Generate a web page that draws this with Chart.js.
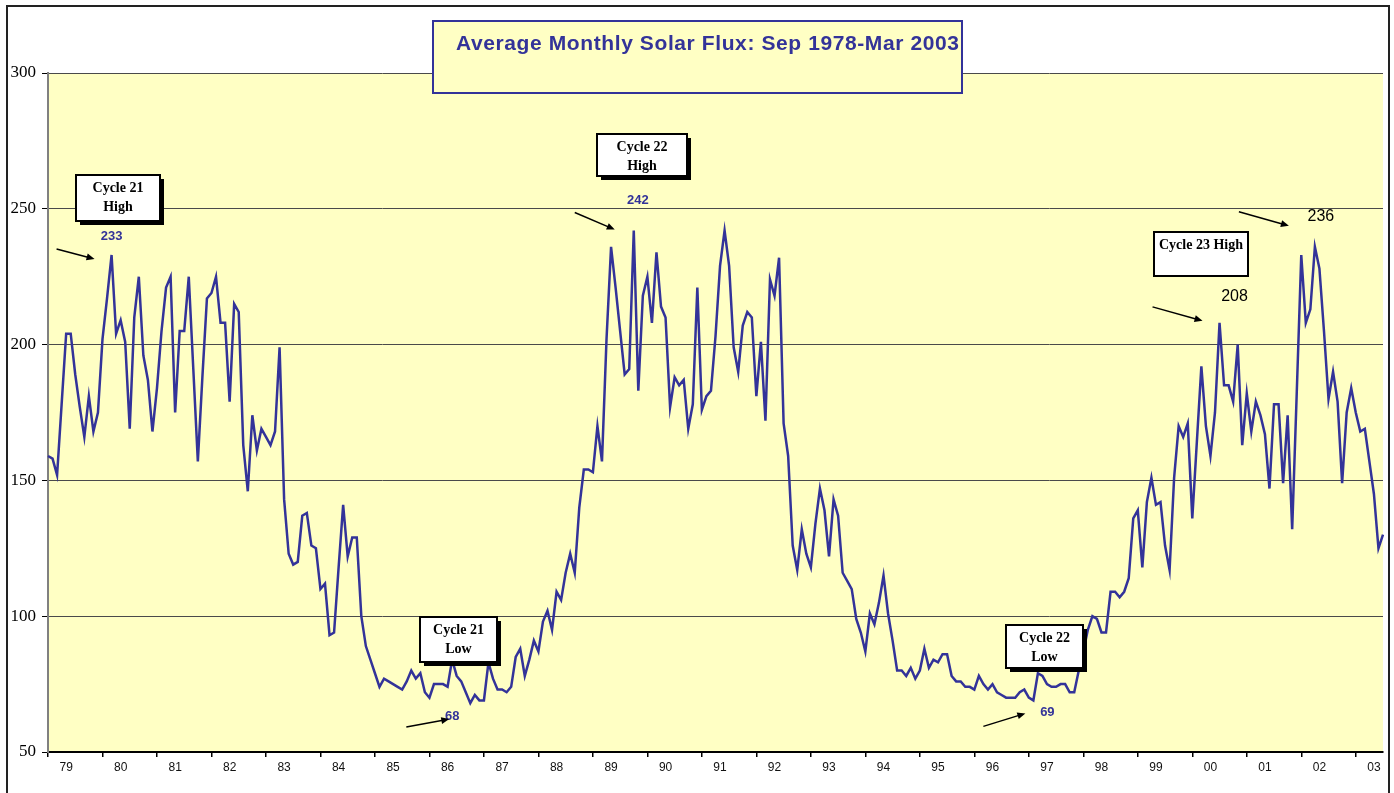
<!DOCTYPE html>
<html>
<head>
<meta charset="utf-8">
<title>Average Monthly Solar Flux</title>
<script src="https://cdn.jsdelivr.net/npm/chart.js@4/dist/chart.umd.min.js"></script>
<style>
    html, body { margin: 0; padding: 0; background: #fff; }
    canvas { display: block; }
</style>
</head>
<body>
<canvas id="flux" width="1394" height="793"></canvas>
<script>
(function() {
    'use strict';

    // first month in the series is Sep 1978 (month index 8)
    var startYear = 1978;
    var startMonth = 8;

    var yearLabels = ['79', '80', '81', '82', '83', '84', '85', '86', '87', '88', '89', '90', '91',
        '92', '93', '94', '95', '96', '97', '98', '99', '00', '01', '02', '03'];

    var monthNames = ['Jan', 'Feb', 'Mar', 'Apr', 'May', 'Jun', 'Jul', 'Aug', 'Sep', 'Oct', 'Nov', 'Dec'];

    // monthly mean 10.7cm flux
    var flux = [
        159, 158, 152, 178,                                           // 1978 Sep-Dec
        204, 204, 189, 177, 166, 181, 168, 175, 202, 217, 233, 204,   // 1979
        209, 201, 169, 210, 225, 196, 187, 168, 184, 205, 221, 225,   // 1980
        175, 205, 205, 225, 191, 157, 188, 217, 219, 225, 208, 208,   // 1981
        179, 215, 212, 163, 146, 174, 161, 169, 166, 163, 168, 199,   // 1982
        143, 123, 119, 120, 137, 138, 126, 125, 110, 112, 93, 94,     // 1983
        118, 141, 122, 129, 129, 100, 89, 84, 79, 74, 77, 76,         // 1984
        75, 74, 73, 76, 80, 77, 79, 72, 70, 75, 75, 75,               // 1985
        74, 84, 78, 76, 72, 68, 71, 69, 69, 83, 77, 73,               // 1986
        73, 72, 74, 85, 88, 78, 84, 91, 87, 98, 102, 95,              // 1987
        109, 106, 116, 123, 116, 140, 154, 154, 153, 170, 157, 202,   // 1988
        236, 221, 205, 189, 191, 242, 183, 218, 225, 208, 234, 214,   // 1989
        210, 177, 188, 185, 187, 169, 178, 221, 176, 181, 183, 203,   // 1990
        229, 242, 229, 199, 190, 207, 212, 210, 181, 201, 172, 224,   // 1991
        218, 232, 171, 159, 126, 117, 132, 123, 118, 134, 147, 139,   // 1992
        122, 143, 137, 116, 113, 110, 99, 94, 87, 101, 97, 105,       // 1993
        115, 101, 91, 80, 80, 78, 81, 77, 80, 88, 81, 84,             // 1994
        83, 86, 86, 78, 76, 76, 74, 74, 73, 78, 75, 73,               // 1995
        75, 72, 71, 70, 70, 70, 72, 73, 70, 69, 79, 78,               // 1996
        75, 74, 74, 75, 75, 72, 72, 80, 87, 95, 100, 99,              // 1997
        94, 94, 109, 109, 107, 109, 114, 136, 139, 118, 142, 151,     // 1998
        141, 142, 126, 117, 151, 170, 166, 171, 136, 164, 192, 170,   // 1999
        159, 175, 208, 185, 185, 179, 200, 163, 182, 168, 179, 174,   // 2000
        167, 147, 178, 178, 149, 174, 132, 182, 233, 208, 213, 236,   // 2001
        228, 205, 180, 190, 179, 149, 175, 184, 175, 168, 169, 157,   // 2002
        145, 125, 130                                                 // 2003 Jan-Mar
    ];

    var months = flux.map(function(v, i) {
        var m = startMonth + i;
        return monthNames[m % 12] + ' ' + (startYear + Math.floor(m / 12));
    });

    // callouts, placed relative to the point they mark (pixel offsets)
    var callouts = [
        { at: 14, lines: ['Cycle 21', 'High'], box: [6, -57, 84, 46], shadow: true,
          num: '233', numAt: [0, -19], numStyle: 'blue', arrow: [-55, -6, -17, 4] },
        { at: 93, lines: ['Cycle 21', 'Low'], box: [-12, -64, 77, 45], shadow: true,
          num: '68', numAt: [-18, 13], numStyle: 'blue', arrow: [-64, 24, -21, 16] },
        { at: 129, lines: ['Cycle 22', 'High'], box: [8, -76, 90, 42], shadow: true,
          num: '242', numAt: [4, -30], numStyle: 'blue', arrow: [-59, -18, -19, -1] },
        { at: 217, lines: ['Cycle 22', 'Low'], box: [11, -54, 77, 43], shadow: true,
          num: '69', numAt: [14, 12], numStyle: 'blue', arrow: [-50, 26, -8, 13] },
        { at: 258, lines: ['Cycle 23 High'], box: [-19, -69, 94, 44], shadow: false,
          num: '208', numAt: [15, -26], numStyle: 'black', arrow: [-67, -16, -17, -2] },
        { at: 279, lines: null,
          num: '236', numAt: [6, -30], numStyle: 'black', arrow: [-76, -35, -26, -21] }
    ];

    var plotYellow = '#FFFFC4';
    var navy = '#333399';

    function arrow(ctx, x1, y1, x2, y2) {
        var a = Math.atan2(y2 - y1, x2 - x1);
        ctx.strokeStyle = '#000';
        ctx.fillStyle = '#000';
        ctx.lineWidth = 1.5;
        ctx.beginPath();
        ctx.moveTo(x1, y1);
        ctx.lineTo(x2 - 5 * Math.cos(a), y2 - 5 * Math.sin(a));
        ctx.stroke();
        ctx.beginPath();
        ctx.moveTo(x2, y2);
        ctx.lineTo(x2 - 8 * Math.cos(a) + 3.5 * Math.sin(a), y2 - 8 * Math.sin(a) - 3.5 * Math.cos(a));
        ctx.lineTo(x2 - 8 * Math.cos(a) - 3.5 * Math.sin(a), y2 - 8 * Math.sin(a) + 3.5 * Math.cos(a));
        ctx.closePath();
        ctx.fill();
    }

    var decor = {
        id: 'decor',
        beforeDraw: function(chart) {
            var ctx = chart.ctx, a = chart.chartArea;
            ctx.save();
            ctx.fillStyle = '#fff';
            ctx.fillRect(0, 0, chart.width, chart.height);
            ctx.fillStyle = plotYellow;
            ctx.fillRect(a.left, a.top, a.right - a.left, a.bottom - a.top);
            ctx.strokeStyle = '#222';
            ctx.lineWidth = 2;
            ctx.strokeRect(7, 6, 1382, 820);
            ctx.restore();
        },
        afterDraw: function(chart) {
            var ctx = chart.ctx;
            var xs = chart.scales.x, ys = chart.scales.y;
            ctx.save();

            // title box
            ctx.fillStyle = plotYellow;
            ctx.fillRect(433, 21, 529, 72);
            ctx.strokeStyle = navy;
            ctx.lineWidth = 2;
            ctx.strokeRect(433, 21, 529, 72);
            ctx.fillStyle = navy;
            ctx.font = 'bold 21px "Liberation Sans", Arial, sans-serif';
            ctx.textAlign = 'left';
            ctx.textBaseline = 'middle';
            if ('letterSpacing' in ctx) ctx.letterSpacing = '0.6px';
            ctx.fillText('Average Monthly Solar Flux: Sep 1978-Mar 2003', 456, 44);
            if ('letterSpacing' in ctx) ctx.letterSpacing = '0px';

            callouts.forEach(function(c) {
                var px = xs.getPixelForValue(c.at);
                var py = ys.getPixelForValue(flux[c.at]);

                if (c.lines) {
                    var cx = px + c.box[0], cy = py + c.box[1];
                    var w = c.box[2], h = c.box[3];
                    var left = Math.round(cx - w / 2), top = Math.round(cy - h / 2);
                    if (c.shadow) {
                        ctx.fillStyle = '#000';
                        ctx.fillRect(left + 4, top + 4, w, h);
                    }
                    ctx.fillStyle = '#fff';
                    ctx.fillRect(left, top, w, h);
                    ctx.strokeStyle = '#000';
                    ctx.lineWidth = 2;
                    ctx.strokeRect(left, top, w, h);
                    ctx.fillStyle = '#000';
                    ctx.font = 'bold 14px "Liberation Serif", "Times New Roman", serif';
                    ctx.textAlign = 'center';
                    ctx.textBaseline = 'middle';
                    c.lines.forEach(function(t, i) {
                        ctx.fillText(t, left + w / 2, top + 13 + i * 19);
                    });
                }

                if (c.numStyle === 'blue') {
                    ctx.fillStyle = navy;
                    ctx.font = 'bold 13px "Liberation Sans", Arial, sans-serif';
                } else {
                    ctx.fillStyle = '#000';
                    ctx.font = '16px "Liberation Sans", Arial, sans-serif';
                }
                ctx.textAlign = 'center';
                ctx.textBaseline = 'middle';
                ctx.fillText(c.num, px + c.numAt[0], py + c.numAt[1]);

                arrow(ctx, px + c.arrow[0], py + c.arrow[1], px + c.arrow[2], py + c.arrow[3]);
            });

            ctx.restore();
        }
    };

    var ctx = document.getElementById('flux').getContext('2d');

    new Chart(ctx, {
        type: 'line',
        data: {
            labels: months,
            datasets: [{
                label: 'Solar flux',
                data: flux,
                borderColor: navy,
                borderWidth: 2.5,
                pointRadius: 0,
                tension: 0,
                fill: false
            }]
        },
        options: {
            responsive: false,
            animation: false,
            layout: { padding: { left: 0, top: 73, right: 11, bottom: 0 } },
            plugins: {
                legend: { display: false },
                tooltip: { enabled: false }
            },
            scales: {
                x: {
                    type: 'category',
                    offset: false,
                    border: { color: '#000', width: 2 },
                    grid: {
                        drawOnChartArea: false,
                        drawTicks: true,
                        tickLength: 5,
                        lineWidth: 1.5,
                        color: function(c) {
                            return c.index % 12 === 0 ? '#000' : 'rgba(0,0,0,0)';
                        }
                    },
                    ticks: {
                        autoSkip: false,
                        maxRotation: 0,
                        minRotation: 0,
                        padding: 3,
                        color: '#111',
                        font: { family: '"Liberation Sans", Arial, sans-serif', size: 12 },
                        callback: function(v, i) {
                            var m = startMonth + i;
                            return m % 12 === 0 ? yearLabels[m / 12 - 1] : '';
                        }
                    },
                    afterFit: function(s) { s.height = 41; }
                },
                y: {
                    min: 50,
                    max: 300,
                    border: { color: '#808080', width: 2 },
                    grid: {
                        color: '#4a4a4a',
                        lineWidth: 1,
                        tickLength: 6,
                        tickColor: '#000'
                    },
                    ticks: {
                        stepSize: 50,
                        padding: 6,
                        color: '#000',
                        font: { family: '"Liberation Serif", "Times New Roman", serif', size: 17 }
                    },
                    afterFit: function(s) { s.width = 48; }
                }
            }
        },
        plugins: [decor]
    });
})();
</script>
</body>
</html>
